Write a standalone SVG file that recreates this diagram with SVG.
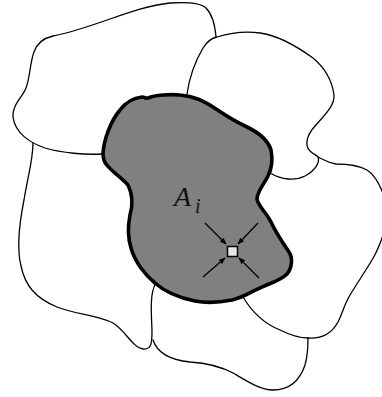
<svg xmlns="http://www.w3.org/2000/svg" width="382" height="397" viewBox="0 0 382 397">
<style>
.ln{fill:none;stroke:#000;stroke-width:1.3;stroke-linecap:round;stroke-linejoin:round}
.gr{fill:#808080;stroke:#000;stroke-width:3.6;stroke-linejoin:round}
.ar{fill:none;stroke:#000;stroke-width:1.3;marker-end:url(#ah)}
.lbl{font-family:"Liberation Serif","Times New Roman",serif;font-style:italic;fill:#111}
</style>
<defs>
<marker id="ah" viewBox="0 0 10 10" refX="9" refY="5" markerWidth="7" markerHeight="7" markerUnits="userSpaceOnUse" orient="auto">
<path d="M0,1 L10,5 L0,9 Z" fill="#000"/>
</marker>
</defs>
<rect width="382" height="397" fill="#fff"/>
<g id="connectors">
<path class="ln" d="M102,154 C85,155 62,153 45,148 C30,143 15,133 13,117 C12,105 22,98 26,88 C30,78 30,62 34,52 C37,43 44,38 53,36 C70,33 90,26 110,19 C130,12 150,5 170,3 C185,2 200,2 206,8 C213,15 215,25 216,37"/>
<path class="ln" d="M33,143 C33,160 28,175 24,200 C19,225 17,250 21,266 C25,285 35,298 57,307 C75,314 100,316 113,323 C125,330 133,348 143,349 C152,350 152,342 152,330 C151,310 150,292 156,283"/>
<path class="ln" d="M153,340 C157,352 170,360 190,362 C205,363 220,366 233,373 C245,380 260,390 273,390 C290,390 300,380 305,365 C308,355 308,345 308,338"/>
<path class="ln" d="M243,297 C252,312 265,324 280,330 C290,335 300,338 308,338 C322,339 332,333 338,322 C343,312 344,305 350,295 C358,282 366,270 372,260 C377,252 380,245 384,232"/>
<path class="ln" d="M318,157 C325,160 328,163 336,164 C345,164 358,165 367,170 C375,175 380,185 384,196"/>
<path class="ln" d="M187,94 C189,80 193,65 203,48 C208,40 212,38 217,37 C230,33 245,31 260,33 C275,35 295,45 313,58 C325,68 332,80 334,95 C335,105 325,115 315,126 C307,135 304,145 310,151 C313,154 318,156 318,157 C320,162 316,170 305,176 C295,181 282,180 270,173"/>
</g>
<g id="region-Ai">
<path class="gr" d="M103,153 C104,140 110,122 120,110 C126,102 133,98 142,97 C145,97 146,99 148,98 C155,95 170,94 180,95 C195,96 205,102 213,107 C222,113 232,120 245,126 C258,132 268,140 271,150 C273,160 272,168 268,176 C264,184 257,192 257,199 C258,206 266,212 271,222 C276,233 283,243 289,252 C293,258 292,268 287,274 C280,281 270,283 260,288 C250,292 245,297 232,300 C222,302 210,304 195,301 C180,298 165,292 155,283 C145,275 135,262 131,248 C127,235 128,225 130,215 C133,205 133,195 128,185 C122,178 112,172 106,164 C103,160 103,157 103,153 Z"/>
<text class="lbl" x="174" y="206" font-size="28">A</text>
<text class="lbl" x="195" y="213" font-size="20">i</text>
</g>
<g id="point">
<line class="ar" x1="205" y1="223" x2="226" y2="244"/>
<line class="ar" x1="258" y1="223" x2="238" y2="244"/>
<line class="ar" x1="203" y1="277" x2="225" y2="258"/>
<line class="ar" x1="259" y1="278" x2="239" y2="258"/>
<rect x="227.5" y="246.5" width="10" height="10" fill="#e6e6e6" stroke="#000" stroke-width="1.5"/>
</g>
</svg>
